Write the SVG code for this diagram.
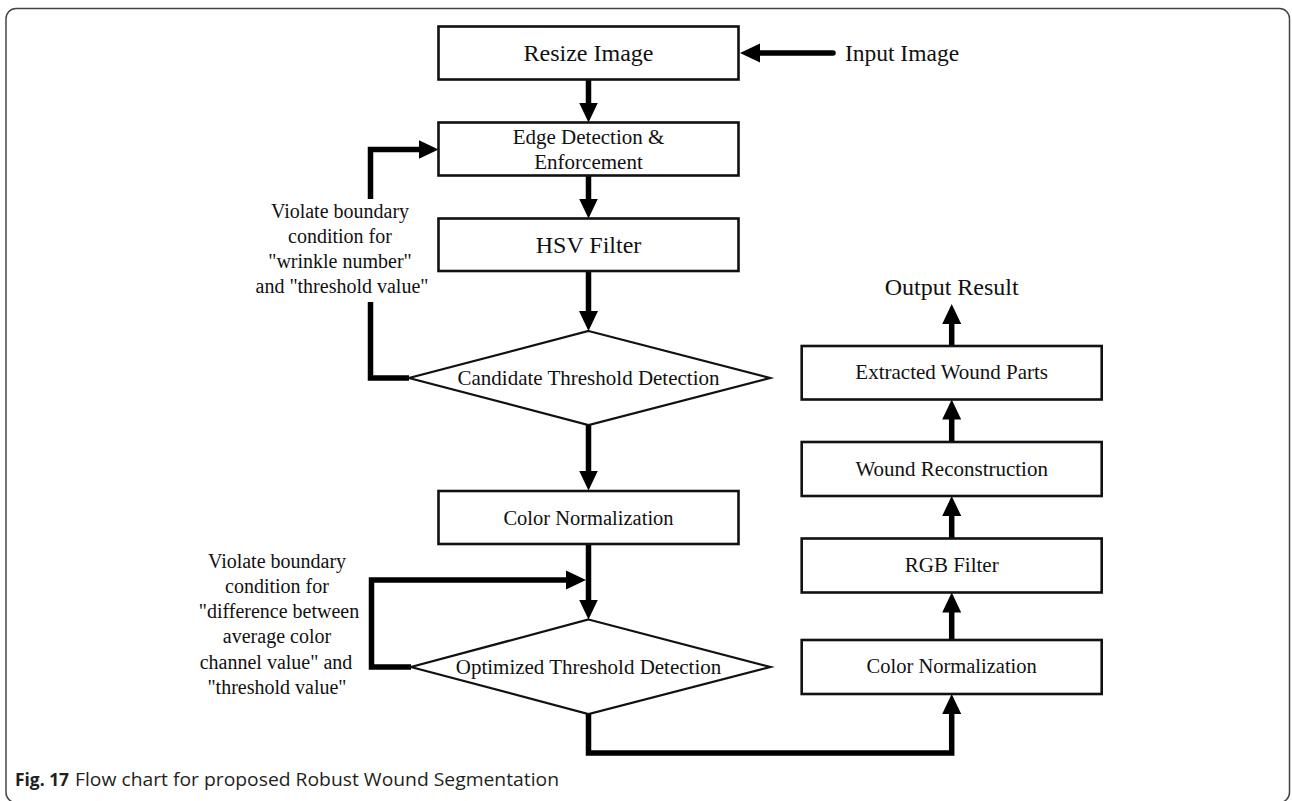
<svg xmlns="http://www.w3.org/2000/svg" width="1292" height="801" viewBox="0 0 1292 801">
<defs>
<style>
.box{fill:#fff;stroke:#111;stroke-width:2.6}
.dia{fill:#fff;stroke:#111;stroke-width:2.2}
.t{font-family:"Liberation Serif","Times New Roman",serif;fill:#111;text-anchor:middle}
.lbl{font-family:"Liberation Serif","Times New Roman",serif;fill:#111;text-anchor:middle;font-size:20px}
.c{fill:none;stroke:#000;stroke-width:5.5}
.cap{font-family:"Open Sans","Liberation Sans",sans-serif;font-size:18px;fill:#231f20}
</style>
<marker id="ah" viewBox="0 0 20 20" markerWidth="20" markerHeight="20" markerUnits="userSpaceOnUse" refX="1" refY="10" orient="auto">
<path d="M0,0.5 L20,10 L0,19.5 Z" fill="#000"/>
</marker>
</defs>
<rect x="6" y="8.5" width="1283.5" height="794" rx="10" ry="10" fill="#fff" stroke="#444" stroke-width="1.5"/>

<g id="connectors">
<path class="c" d="M833,53 H759" stroke-linecap="round" marker-end="url(#ah)"/>
<path class="c" d="M588.5,79.5 V103.5" marker-end="url(#ah)"/>
<path class="c" d="M588.5,175.5 V199.5" marker-end="url(#ah)"/>
<path class="c" d="M588.5,271 V312" marker-end="url(#ah)"/>
<path class="c" d="M588.5,425 V471.5" marker-end="url(#ah)"/>
<path class="c" d="M588.5,544 V600.5" marker-end="url(#ah)"/>
<path class="c" d="M409,378 H370.5 V302"/>
<path class="c" d="M370.5,199 V149.5 H419.5" marker-end="url(#ah)"/>
<path class="c" d="M411,667 H371.5 V580 H567" marker-end="url(#ah)"/>
<path class="c" d="M588.5,714 V753 H951.7 V713" marker-end="url(#ah)"/>
<path class="c" d="M951.7,640 V611.5" marker-end="url(#ah)"/>
<path class="c" d="M951.7,538.5 V515" marker-end="url(#ah)"/>
<path class="c" d="M951.7,442 V418.5" marker-end="url(#ah)"/>
<path class="c" d="M951.7,346 V323" marker-end="url(#ah)"/>
</g>

<g id="resize">
<rect class="box" x="438.5" y="26.5" width="300" height="53"/>
<text class="t" x="588.5" y="61" font-size="24">Resize Image</text>
</g>
<g id="input">
<text class="t" x="902" y="60.5" font-size="23.5">Input Image</text>
</g>
<g id="edge">
<rect class="box" x="438.5" y="122.5" width="300" height="53"/>
<text class="t" x="588.5" y="144" font-size="21">Edge Detection &amp;</text>
<text class="t" x="588.5" y="168.5" font-size="21">Enforcement</text>
</g>
<g id="hsv">
<rect class="box" x="438.5" y="218.5" width="300" height="52.5"/>
<text class="t" x="588.5" y="253" font-size="24">HSV Filter</text>
</g>
<g id="candidate">
<polygon class="dia" points="588.5,331 770,378 588.5,425 409,378"/>
<text class="t" x="588.5" y="385" font-size="21">Candidate Threshold Detection</text>
</g>
<g id="label1">
<text class="lbl" x="340" y="218">Violate boundary</text>
<text class="lbl" x="340" y="243">condition for</text>
<text class="lbl" x="340" y="268">"wrinkle number"</text>
<text class="lbl" x="342" y="293">and "threshold value"</text>
</g>
<g id="colornorm1">
<rect class="box" x="438.5" y="491" width="300" height="53"/>
<text class="t" x="588.5" y="525" font-size="20.5">Color Normalization</text>
</g>
<g id="optimized">
<polygon class="dia" points="588.5,619.5 770.5,667 588.5,714 411,667"/>
<text class="t" x="588.5" y="673.5" font-size="21">Optimized Threshold Detection</text>
</g>
<g id="label2">
<text class="lbl" x="277" y="568">Violate boundary</text>
<text class="lbl" x="277" y="593">condition for</text>
<text class="lbl" x="279" y="618">"difference between</text>
<text class="lbl" x="277" y="643">average color</text>
<text class="lbl" x="276" y="669">channel value" and</text>
<text class="lbl" x="277" y="694">"threshold value"</text>
</g>
<g id="colornorm2">
<rect class="box" x="801.7" y="640" width="300" height="54"/>
<text class="t" x="951.7" y="673.3" font-size="20.5">Color Normalization</text>
</g>
<g id="rgb">
<rect class="box" x="801.7" y="538.5" width="300" height="54"/>
<text class="t" x="951.7" y="571.7" font-size="21">RGB Filter</text>
</g>
<g id="wound">
<rect class="box" x="801.7" y="442" width="300" height="54"/>
<text class="t" x="951.7" y="475.7" font-size="21">Wound Reconstruction</text>
</g>
<g id="extracted">
<rect class="box" x="801.7" y="346" width="300" height="53.5"/>
<text class="t" x="951.7" y="379" font-size="21">Extracted Wound Parts</text>
</g>
<g id="output">
<text class="t" x="951.7" y="294.5" font-size="24">Output Result</text>
</g>
<g id="caption">
<text class="cap" x="15" y="786" font-weight="bold" textLength="54" lengthAdjust="spacingAndGlyphs">Fig. 17</text>
<text class="cap" x="75" y="786" textLength="484" lengthAdjust="spacingAndGlyphs">Flow chart for proposed Robust Wound Segmentation</text>
</g>
</svg>
